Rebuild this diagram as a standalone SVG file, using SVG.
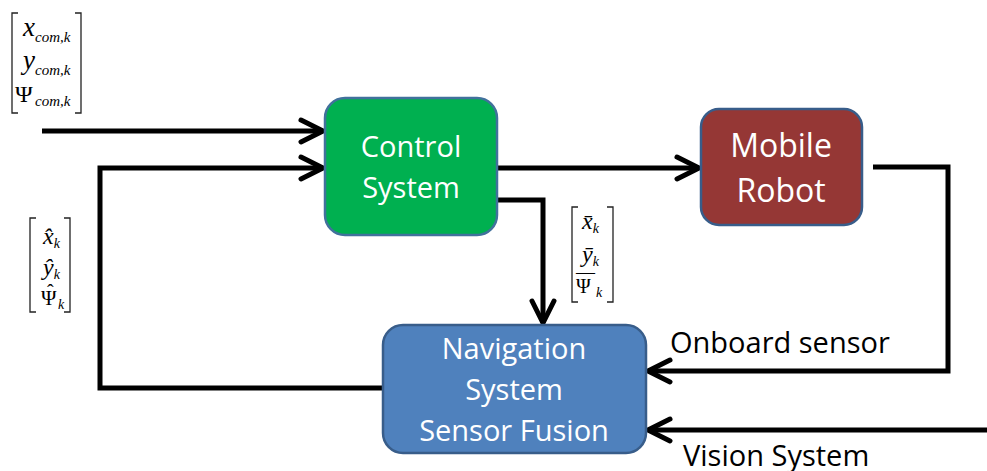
<svg xmlns="http://www.w3.org/2000/svg" width="987" height="471" viewBox="0 0 987 471">
<style>
.box{stroke-width:2.5}
.lbl{font-family:"Open Sans","Noto Sans","Liberation Sans",sans-serif;fill:#fff;text-anchor:middle}
.ext{font-family:"Open Sans","Noto Sans","Liberation Sans",sans-serif;fill:#000;font-size:29px}
.con{fill:none;stroke:#000;stroke-width:5;stroke-linejoin:miter}
.m{font-family:"Liberation Serif","Times New Roman",serif;font-style:italic;fill:#000}
.u{font-family:"Liberation Serif","Times New Roman",serif;font-style:normal;fill:#000}
.br{fill:none;stroke:#222;stroke-width:1.3}
</style>
<defs>
<marker id="ah" markerUnits="userSpaceOnUse" viewBox="0 0 30 30" markerWidth="30" markerHeight="30" refX="27" refY="15" orient="auto" overflow="visible">
<path d="M5,4 L27,15 L5,26" fill="none" stroke="#000" stroke-width="5" stroke-linecap="round" stroke-linejoin="miter"/>
</marker>
</defs>
<g id="connectors">
<path class="con" d="M42,131 H323" marker-end="url(#ah)"/>
<path class="con" d="M383,388 H100 V168 H323" marker-end="url(#ah)"/>
<path class="con" d="M497,168 H699" marker-end="url(#ah)"/>
<path class="con" d="M497,200 H543 V323" marker-end="url(#ah)"/>
<path class="con" d="M873,167 H948 V371 H648" marker-end="url(#ah)"/>
<path class="con" d="M987,430 H648" marker-end="url(#ah)"/>
</g>
<g id="control">
<rect class="box" x="325" y="98" width="172" height="137" rx="20" fill="#00B050" stroke="#41719C"/>
<text class="lbl" font-size="29" x="411" y="157">Control</text>
<text class="lbl" font-size="29" x="411" y="198">System</text>
</g>
<g id="robot">
<rect class="box" x="701" y="109" width="161" height="116" rx="18" fill="#953735" stroke="#385D8A"/>
<text class="lbl" font-size="32" x="781" y="157">Mobile</text>
<text class="lbl" font-size="32" x="781" y="202">Robot</text>
</g>
<g id="navigation">
<rect class="box" x="383" y="325" width="263" height="128" rx="20" fill="#4F81BD" stroke="#385D8A"/>
<text class="lbl" font-size="29" x="514" y="359">Navigation</text>
<text class="lbl" font-size="29" x="514" y="400">System</text>
<text class="lbl" font-size="29" x="514" y="441">Sensor Fusion</text>
</g>
<g id="labels">
<text class="ext" x="670" y="353">Onboard sensor</text>
<text class="ext" x="683" y="466">Vision System</text>
</g>
<g id="vec-com">
<path class="br" d="M18,13 H12 V113 H18 M75,13 H81 V113 H75"/>
<text class="m" font-size="27" x="23" y="36">x<tspan font-size="15" dy="6">com,k</tspan></text>
<text class="m" font-size="27" x="23" y="69">y<tspan font-size="15" dy="6">com,k</tspan></text>
<text class="u" font-size="24" x="15" y="102">Ψ<tspan class="m" font-size="15" x="35" y="106">com,k</tspan></text>
</g>
<g id="vec-hat">
<path class="br" d="M36,218 H30 V312 H36 M64,218 H70 V312 H64"/>
<text class="m" font-size="24" x="43" y="244">x̂<tspan font-size="14" dy="4">k</tspan></text>
<text class="m" font-size="24" x="43" y="275">ŷ<tspan font-size="14" dy="4">k</tspan></text>
<text class="u" font-size="21" x="41" y="305">Ψ<tspan font-size="20" x="47" y="299">ˆ</tspan><tspan class="m" font-size="14" x="58" y="309">k</tspan></text>
</g>
<g id="vec-bar">
<path class="br" d="M578,207 H572 V302 H578 M607,207 H613 V302 H607"/>
<text class="m" font-size="24" x="582" y="229">x̄<tspan font-size="14" dy="4">k</tspan></text>
<text class="m" font-size="24" x="582" y="262">ȳ<tspan font-size="14" dy="4">k</tspan></text>
<text class="u" font-size="20" x="576" y="293">Ψ<tspan font-size="19" x="576" y="278">―</tspan><tspan class="m" font-size="14" x="596" y="297">k</tspan></text>
</g>
</svg>
